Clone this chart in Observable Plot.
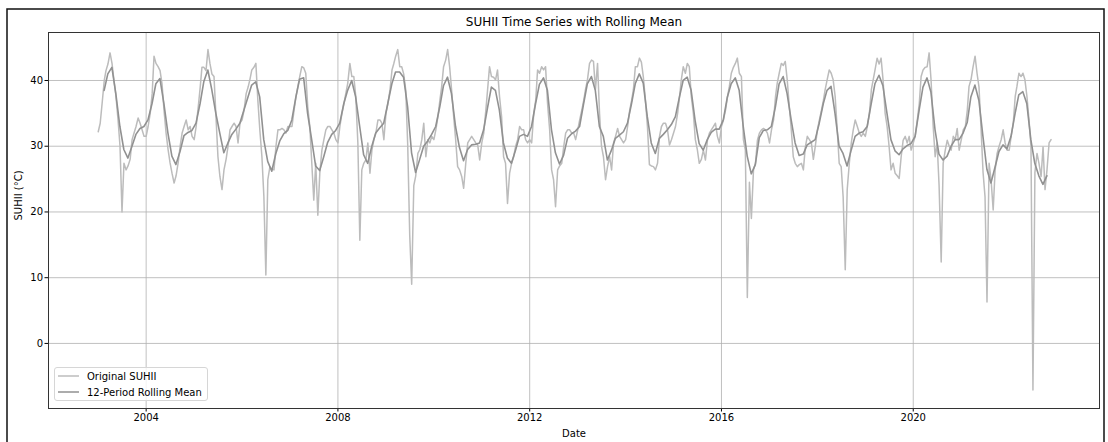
<!DOCTYPE html>
<html>
<head>
<meta charset="utf-8">
<script src="https://cdn.jsdelivr.net/npm/d3@7"></script>
<script src="https://cdn.jsdelivr.net/npm/@observablehq/plot@0.6"></script>
<style>
  html, body { margin: 0; padding: 0; background: #fff; }
  #chart svg { display: block; }
</style>
</head>
<body>
<div id="chart"></div>
<script>
// ---- Original SUHII, twice a month (1st and 16th), °C ----
const suhii2003 = [32.2, 33.5, 36.8, 40, 41.5, 42.5, 44.2, 42.6, 40, 37.6, 34, 30, 20, 27.4, 26.4, 27, 28, 31, 32, 33, 34.3, 33.5, 32.5, 31.5];
const suhii2004 = [31.5, 33, 35, 38, 43.7, 42.6, 42.1, 41.5, 39.5, 35.5, 32, 29.5, 27.5, 25.9, 24.4, 25.5, 27.5, 30, 32, 33, 34, 32.5, 33, 31.5];
const suhii2005 = [31, 33, 36, 39, 42, 42, 41.5, 44.7, 42.6, 41, 40.6, 34.5, 28.4, 25.4, 23.4, 26.4, 28, 30, 32.5, 33, 33.5, 33, 30.5, 33.5];
const suhii2006 = [34, 35.5, 38, 39, 40.1, 41.6, 42, 42.6, 37, 32.5, 28.4, 22.3, 10.4, 24.9, 26.9, 26.5, 26.4, 30, 32.5, 32.5, 32.7, 32.5, 32, 33];
const suhii2007 = [33, 33, 35.5, 37.6, 39, 40.6, 42.1, 41.9, 41.1, 36, 33, 27.4, 21.8, 27.4, 19.5, 25.9, 29.4, 31, 32.5, 33, 33, 32.5, 32, 31];
const suhii2008 = [30.5, 33, 35, 36.5, 38, 39.6, 42.6, 40.6, 40.6, 37.6, 30.5, 15.7, 26.4, 27.4, 27.9, 30.5, 25.9, 29.4, 31, 32, 34, 34, 33.5, 31];
const suhii2009 = [35, 36.5, 38.6, 41.6, 42.5, 43.7, 44.7, 42.1, 42.1, 41, 38.5, 30, 16.5, 9, 24, 25.5, 28.9, 29.5, 31, 33.5, 28.4, 31, 30.5, 31.5];
const suhii2010 = [31, 32.5, 34.5, 37, 39, 42.1, 43.1, 44.7, 42.1, 38.6, 34.5, 31, 26.9, 26.4, 25.4, 23.6, 27.4, 30.5, 31, 31.5, 31, 30.5, 30.2, 27.9];
const suhii2011 = [30.5, 32, 35.5, 39, 42.1, 40.6, 40.5, 40.1, 41.6, 37.6, 34.5, 28.4, 27.4, 21.3, 25.9, 27.4, 28.4, 30, 31, 33, 32.5, 32.5, 31, 30.5];
const suhii2012 = [31, 30.5, 35, 37, 41.6, 41.1, 42.1, 41.6, 42.1, 36.5, 32.5, 26.4, 24.9, 20.8, 26.4, 27, 27.4, 29.9, 32, 32.5, 32.5, 32, 32, 31];
const suhii2013 = [32.5, 34, 35.5, 37, 38.6, 40.1, 42.6, 43.1, 42.9, 38.6, 42.6, 35, 30, 28.4, 24.9, 26.9, 28.4, 26.4, 30.5, 31.5, 32.7, 31.5, 31, 30.5];
const suhii2014 = [31, 33, 35.5, 37, 38.6, 42.1, 42.1, 43.4, 42.8, 40.5, 37, 33, 27.2, 27, 26.9, 26.4, 27.4, 31.5, 33, 33.5, 33.5, 32.5, 30.2, 31];
const suhii2015 = [32, 33, 35, 37.6, 40.1, 42.1, 41.1, 42.6, 42.1, 37.6, 35, 31, 29.5, 27.4, 28, 29.4, 27.9, 30.9, 32, 32.5, 33, 33.5, 31.5, 30.5];
const suhii2016 = [33, 34, 35.5, 37.5, 39.1, 41.1, 42, 42.6, 43.4, 41.1, 40.6, 31, 29.4, 7, 24.5, 19, 26.4, 27.4, 30.9, 32, 32.5, 32.7, 32.5, 32];
const suhii2017 = [30.5, 32.5, 34, 37.6, 39.6, 41.1, 42.6, 42.3, 42.9, 40.1, 36, 32.5, 28.4, 27.4, 26.9, 27.2, 27.4, 26.4, 29.9, 31.5, 31, 30.5, 28, 30];
const suhii2018 = [32.5, 34, 35.5, 37, 38.6, 40.1, 41.6, 41.1, 40.1, 37.6, 32.5, 27.4, 26.9, 22.3, 11.2, 23.4, 27.4, 30.5, 32.5, 34, 33, 32, 31.5, 32];
const suhii2019 = [31.5, 33, 35, 38.6, 40, 41.6, 43.4, 42.5, 43.4, 40.1, 35, 33, 30, 26.4, 27.4, 25.9, 25.5, 25.1, 28.4, 30.9, 31.5, 30.5, 31.5, 29.4];
const suhii2020 = [30.5, 31.5, 34, 36.5, 40.6, 41.6, 42, 42.1, 44.2, 40, 33, 28.4, 30.5, 24, 12.4, 27.4, 29.4, 30.9, 30, 29.4, 31.5, 31, 32.7, 29.4];
const suhii2021 = [31, 32.5, 33, 35.5, 39.1, 40.1, 42.1, 43.7, 41.1, 39, 32.5, 26, 22.3, 6.3, 27.4, 24.9, 20.3, 26.4, 28.9, 30, 31, 32.5, 30.5, 29.4];
const suhii2022 = [29.4, 31.5, 33.5, 37.6, 39.1, 41.1, 40.6, 41.1, 40.1, 37.6, 34, 30, -7.1, 26, 28.9, 27.4, 25.4, 29.9, 23.4, 26.4, 30.5, 31];

// ---- 12-period rolling mean, mid-month, °C (2003 starts in February) ----
const rolling2003 = [38.5, 41, 42, 38, 33, 29.5, 28.2, 30, 31.8, 32.7, 33];
const rolling2004 = [34, 36.5, 39.5, 40.3, 36.5, 32, 28.5, 27.2, 29.2, 31.6, 32.1, 32.4];
const rolling2005 = [33.5, 36.5, 39.8, 41.6, 38.6, 35, 32, 29, 30.5, 31.8, 32.6, 33.5];
const rolling2006 = [35.5, 37.5, 39.3, 39.8, 37.5, 31, 27.7, 26.2, 28.9, 30.8, 31.9, 32.4];
const rolling2007 = [34, 37.5, 40.2, 40.4, 35, 31, 27, 26.3, 28.4, 30.6, 31.8, 32.4];
const rolling2008 = [33.5, 36.5, 38.5, 40, 37.5, 33, 28.7, 27.4, 30, 32, 32.8, 33.5];
const rolling2009 = [36.5, 39.5, 41.3, 41.3, 40.5, 36, 29, 26, 28, 30, 30.8, 31.8];
const rolling2010 = [33, 36, 39.2, 40.5, 38, 33, 29.8, 27.8, 29.5, 30.2, 30.3, 30.5];
const rolling2011 = [32.5, 36, 39, 38.5, 35.5, 30.5, 28.2, 27.4, 29.4, 31.5, 31.8, 31.5];
const rolling2012 = [33, 36.5, 39.4, 40.4, 38.5, 32.5, 29, 27.3, 28.6, 31.2, 31.9, 32.3];
const rolling2013 = [33, 36.5, 39.5, 40.6, 38.5, 33, 31.5, 27.9, 29.4, 31.2, 31.7, 32.2];
const rolling2014 = [33.5, 36.5, 39.5, 41, 39.6, 34.5, 30.5, 28.9, 31.2, 31.8, 32.5, 33.3];
const rolling2015 = [34.5, 37.5, 40, 40.5, 38.5, 33.8, 30.4, 29.4, 31, 32.1, 32.6, 32.6];
const rolling2016 = [34, 37.5, 39.5, 40.4, 38.5, 33, 28.5, 25.8, 27.2, 31.3, 32.4, 32.5];
const rolling2017 = [33, 36, 39.5, 40.6, 38, 34, 30.5, 28.6, 28.8, 30.2, 30.6, 31];
const rolling2018 = [33.5, 36.5, 38.5, 39.1, 35, 30, 28.9, 27, 29.4, 31.5, 32, 32.2];
const rolling2019 = [33, 36.5, 39.5, 40.8, 39.2, 35, 31, 29.3, 28.7, 29.6, 30.1, 30.4];
const rolling2020 = [31.5, 35.5, 39, 40.4, 38.2, 32.5, 28.8, 27.9, 28.5, 30, 31, 31];
const rolling2021 = [32, 33.6, 37.5, 39.3, 37, 31.5, 26.5, 24.4, 26.8, 29.2, 30.2, 29.6];
const rolling2022 = [31.5, 35, 37.8, 38.3, 36.5, 31, 27.4, 25.5, 24.2, 25.5];

const years = [2003, 2004, 2005, 2006, 2007, 2008, 2009, 2010, 2011, 2012, 2013, 2014, 2015, 2016, 2017, 2018, 2019, 2020, 2021, 2022];
const suhiiByYear = [suhii2003, suhii2004, suhii2005, suhii2006, suhii2007, suhii2008, suhii2009, suhii2010, suhii2011, suhii2012, suhii2013, suhii2014, suhii2015, suhii2016, suhii2017, suhii2018, suhii2019, suhii2020, suhii2021, suhii2022];
const rollingByYear = [rolling2003, rolling2004, rolling2005, rolling2006, rolling2007, rolling2008, rolling2009, rolling2010, rolling2011, rolling2012, rolling2013, rolling2014, rolling2015, rolling2016, rolling2017, rolling2018, rolling2019, rolling2020, rolling2021, rolling2022];

const xTickYears = [2004, 2008, 2012, 2016, 2020];
const yTicks = [0, 10, 20, 30, 40];
const titleText = "SUHII Time Series with Rolling Mean";
const xLabel = "Date";
const yLabel = "SUHII (°C)";
const seriesNames = ["Original SUHII", "12-Period Rolling Mean"];

// ---- build tables ----
const original = [];
years.forEach((y, k) => suhiiByYear[k].forEach((v, i) => {
  original.push({date: new Date(Date.UTC(y, Math.floor(i / 2), i % 2 ? 16 : 1)), value: v});
}));
const rolling = [];
years.forEach((y, k) => {
  const arr = rollingByYear[k];
  const offset = 12 - arr.length; // only the first year is short at its start
  const start = k === 0 ? offset : 0;
  arr.forEach((v, j) => rolling.push({date: new Date(Date.UTC(y, start + j, 15)), value: v}));
});

const fromYear = f => {
  const y = Math.floor(f);
  const a = Date.UTC(y, 0, 1), b = Date.UTC(y + 1, 0, 1);
  return new Date(a + (f - y) * (b - a));
};
const xTicks = xTickYears.map(y => new Date(Date.UTC(y, 0, 1)));

const COL_ORIG = "#bcbcbc";
const COL_ROLL = "#919191";
const FONT = "DejaVu Sans, sans-serif";

const chart = Plot.plot({
  width: 1108,
  height: 442,
  marginLeft: 48,
  marginRight: 9,
  marginTop: 32,
  marginBottom: 34,
  style: {fontFamily: FONT, fontSize: "10px", color: "#000", background: "#fff", overflow: "visible"},
  x: {type: "utc", domain: [fromYear(2001.962), fromYear(2023.885)], ticks: xTicks,
      tickFormat: d => String(d.getUTCFullYear()), tickSize: 3.5, tickPadding: 2, label: null},
  y: {domain: [-9.9, 47.3], ticks: yTicks, tickSize: 3.5, tickPadding: 2, label: null},
  marks: [
    Plot.ruleY(yTicks, {stroke: "#b0b0b0", strokeWidth: 0.8}),
    Plot.ruleX(xTicks, {stroke: "#b0b0b0", strokeWidth: 0.8}),
    Plot.line(original, {x: "date", y: "value", stroke: COL_ORIG, strokeWidth: 1.5}),
    Plot.line(rolling, {x: "date", y: "value", stroke: COL_ROLL, strokeWidth: 1.6}),
    Plot.frame({stroke: "#333", strokeWidth: 1}),
    Plot.text([titleText], {frameAnchor: "top", lineAnchor: "middle", dy: -10, fontSize: 12, fill: "#000"}),
    Plot.text([xLabel], {frameAnchor: "bottom", lineAnchor: "middle", dy: 25, fontSize: 10, fill: "#000"}),
    Plot.text([yLabel], {frameAnchor: "left", dx: -30, rotate: -90, fontSize: 10, fill: "#000"})
  ]
});

document.getElementById("chart").appendChild(chart);

// ---- legend and figure border (decoration) ----
const svg = d3.select(chart);
const lg = svg.append("g").attr("font-family", FONT).attr("font-size", 10).attr("text-anchor", "start");
lg.append("rect").attr("x", 54.5).attr("y", 367.5).attr("width", 153).attr("height", 33)
  .attr("rx", 2.5).attr("fill", "#fff").attr("fill-opacity", 0.8).attr("stroke", "#d6d6d6");
[COL_ORIG, COL_ROLL].forEach((c, i) => {
  const cy = 376 + i * 16;
  lg.append("line").attr("x1", 58).attr("x2", 79).attr("y1", cy).attr("y2", cy)
    .attr("stroke", c).attr("stroke-width", 1.5);
  lg.append("text").attr("x", 87).attr("y", cy).attr("dy", "0.35em")
    .attr("text-anchor", "start").attr("fill", "#000").text(seriesNames[i]);
});
svg.append("rect").attr("x", 7).attr("y", 9).attr("width", 1097).attr("height", 450)
  .attr("fill", "none").attr("stroke", "#111").attr("stroke-width", 1.5);
</script>
</body>
</html>
